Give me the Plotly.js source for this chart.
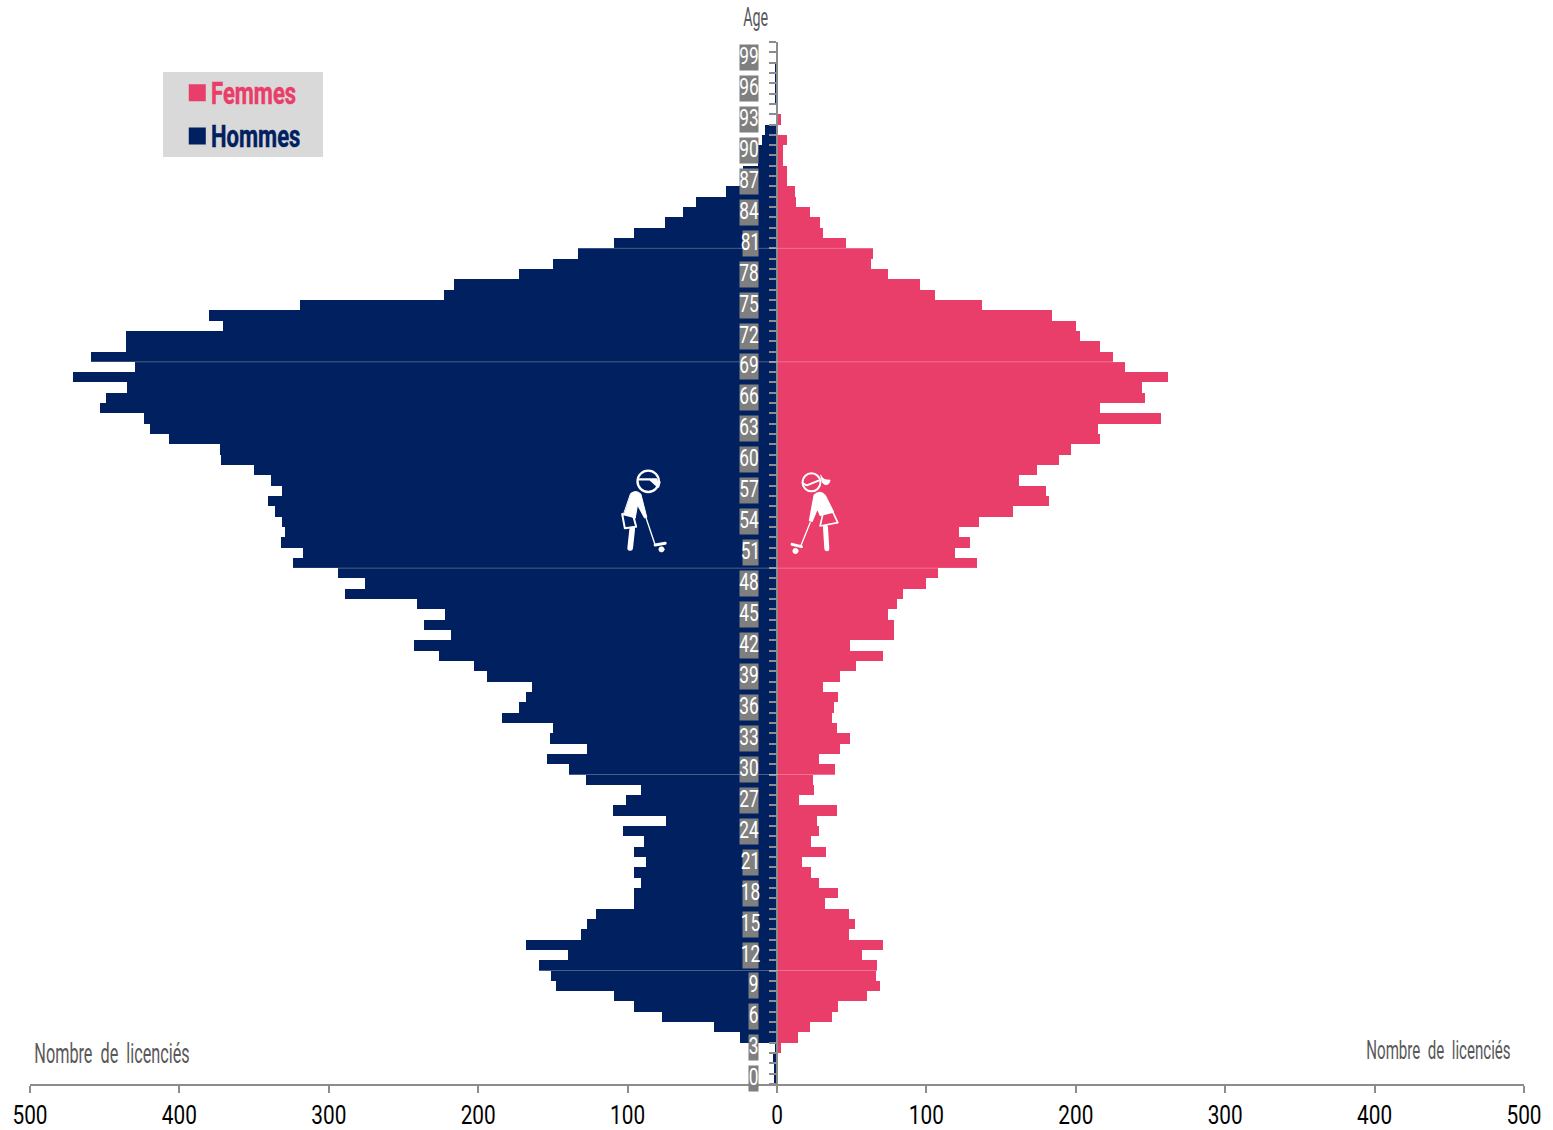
<!DOCTYPE html>
<html><head><meta charset="utf-8">
<script src="https://cdn.plot.ly/plotly-3.0.1.min.js"></script>
<style>html,body{margin:0;padding:0;background:#fff}#chart{width:1553px;height:1130px}</style>
</head><body><div id="chart"></div>
<script>
const ages = Array.from({length:101},(_,i)=>i);
const hommes = [
 2,2,3,1,25,42,77,96,109,148,
 151,159,140,168,131,127,121,96,96,91,
 96,88,96,89,103,74,110,101,91,128,
 139,154,127,152,150,184,173,168,164,194,
 203,226,243,218,236,222,241,289,276,294,
 324,317,332,329,331,336,341,331,339,350,
 372,373,407,420,424,453,449,435,471,430,
 459,436,436,371,380,319,223,216,173,150,
 133,109,96,75,63,54,34,24,23,13,
 13,10,8,0,0,1,1,1,1,0,0];
const femmes = [
 0,0,0,3,14,22,37,41,60,69,
 66,67,57,71,48,52,48,32,41,28,
 23,17,33,23,28,27,40,15,25,24,
 39,28,42,49,40,37,38,41,31,42,
 53,71,49,78,78,74,80,84,100,108,
 134,119,129,122,135,158,182,180,162,174,
 189,197,216,215,257,216,246,244,262,233,
 225,216,203,200,184,137,106,96,74,63,
 64,46,31,29,22,13,12,7,7,4,
 4,7,0,3,0,0,0,0,0,0,0];
const xTicks = [-500,-400,-300,-200,-100,0,100,200,300,400,500];
const xTickText = ['500','400','300','200','100','0','100','200','300','400','500'];
const ageLabels = ages.filter(a=>a%3===0 && a<100);
const seams = [10.5,29.5,49.5,69.5,80.5];
const femmesColor='#E93D6A', hommesColor='#00205F', greyText='#595959', narrow='"Liberation Sans Narrow","Roboto","Noto Sans",sans-serif';

const L=29.7,R=1524,T=42,B=1084;
const px=x=>(x-L)/(R-L), py=y=>(B-y)/(B-T);

const icon = `<svg xmlns="http://www.w3.org/2000/svg" viewBox="0 0 780 390" width="780" height="390" fill="none" stroke="white" stroke-linecap="round" stroke-linejoin="round">
<circle cx="144" cy="94" r="32" stroke-width="7"/>
<path d="M114 88 L168 88 M150 88 L178 96 L174 110 Z" stroke-width="7" fill="white"/>
<path d="M92 130 Q108 118 122 132 L140 202 L133 204 L112 165 L105 205 L72 190 Z" fill="white" stroke-width="3"/>
<path d="M66 192 L100 200 L108 230 L74 235 Z" stroke-width="6"/>
<path d="M96 238 L90 294" stroke-width="17"/>
<path d="M138 205 L165 285" stroke-width="4"/>
<path d="M165 285 L195 280" stroke-width="9"/>
<circle cx="184" cy="298" r="8" fill="white" stroke-width="2"/>
<circle cx="634" cy="97" r="27" stroke-width="6"/>
<path d="M608 100 L620 106 L655 92" stroke-width="6"/>
<path d="M662 76 Q668 92 690 90 Q688 106 675 104 Q662 100 662 76 Z" fill="white" stroke-width="2"/>
<path d="M642 136 Q660 118 676 138 L700 186 L660 196 L652 175 L636 214 L628 212 Z" fill="white" stroke-width="4"/>
<path d="M668 192 L696 182 L713 218 L660 228 Z" stroke-width="5"/>
<path d="M676 232 L680 296" stroke-width="15"/>
<path d="M630 218 L603 285" stroke-width="4"/>
<path d="M576 283 L604 290" stroke-width="9"/>
<circle cx="586" cy="303" r="8" fill="white" stroke-width="2"/>
</svg>`;

const bar=(name,x,color)=>({type:'bar',orientation:'h',name,x,y:ages,marker:{color,line:{width:0}},hoverinfo:'x+y'});
const traces=[
 bar(`<b><span style="color:${femmesColor}">Femmes</span></b>`,femmes,femmesColor),
 bar(`<b><span style="color:${hommesColor}">Hommes</span></b>`,hommes.map(v=>-v),hommesColor)
];
const digitW=s=>[...s].reduce((w,c)=>w+(c==='1'?6:9),0);
const annotations=ageLabels.map(a=>({
  xref:'x',yref:'y',x:-12,y:a,xanchor:'right',yanchor:'middle',showarrow:false,
  text:String(a),font:{family:narrow,size:24,color:'#fff'},
  bgcolor:'#7F7F7F',borderpad:0,width:digitW(String(a)),height:25,align:'center',valign:'middle'
})).concat([
 {xref:'paper',yref:'paper',x:px(755),y:py(17),showarrow:false,text:'Age',font:{family:narrow,size:26,color:greyText},xanchor:'center',yanchor:'middle'},
 {xref:'paper',yref:'paper',x:px(112),y:py(1053),showarrow:false,text:'Nombre  de  licenciés',font:{family:narrow,size:28,color:greyText},xanchor:'center',yanchor:'middle'},
 {xref:'paper',yref:'paper',x:px(1438),y:py(1050),showarrow:false,text:'Nombre  de  licenciés',font:{family:narrow,size:26,color:greyText},xanchor:'center',yanchor:'middle'}
]);
const shapes=seams.map(s=>({type:'line',xref:'x',yref:'y',x0:-500,x1:500,y0:s,y1:s,line:{color:'rgba(255,255,255,0.28)',width:1},layer:'above'}));
const layout={
 width:1553,height:1130,autosize:false,
 margin:{l:L,r:1553-R,t:T,b:1130-B,pad:0},
 paper_bgcolor:'#fff',plot_bgcolor:'#fff',
 barmode:'overlay',bargap:0,
 showlegend:true,
 legend:{x:px(163),y:py(72),xanchor:'left',yanchor:'top',bgcolor:'#D9D9D9',borderwidth:0,
   font:{family:narrow,size:31},entrywidth:110,entrywidthmode:'pixels',itemclick:false,itemdoubleclick:false},
 xaxis:{range:[-500,500],tickmode:'array',tickvals:xTicks,ticktext:xTickText,ticks:'outside',ticklen:7,tickwidth:1.5,tickcolor:'#8C8C8C',
   showline:true,linecolor:'#8C8C8C',linewidth:1.5,showgrid:false,zeroline:false,
   tickfont:{family:narrow,size:26,color:'#000'},fixedrange:true},
 yaxis:{range:[-0.5,100.5],anchor:'free',position:0.5,tickmode:'linear',tick0:-0.5,dtick:1,ticks:'outside',ticklen:7,tickwidth:1.5,tickcolor:'#8C8C8C',
   showline:true,linecolor:'#8C8C8C',linewidth:2,showgrid:false,zeroline:false,showticklabels:false,fixedrange:true},
 annotations,shapes,
 images:[{source:'data:image/svg+xml;charset=utf-8,'+encodeURIComponent(icon),xref:'paper',yref:'paper',
   x:px(600),y:py(450),sizex:260/(R-L),sizey:130/(B-T),xanchor:'left',yanchor:'top',sizing:'stretch',layer:'above'}]
};
function squeeze(el,f,anchor){
  const b=el.getBBox();
  const cx=anchor==='left'?b.x:b.x+b.width/2;
  el.setAttribute('transform',(el.getAttribute('transform')||'')+` translate(${cx},0) scale(${f},1) translate(${-cx},0)`);
}
Plotly.newPlot('chart',traces,layout,{displayModeBar:false}).then(gd=>{
  gd.querySelectorAll('.xtick text').forEach(e=>squeeze(e,0.8));
  gd.querySelectorAll('.annotation').forEach(g=>{
    const t=g.querySelector('.annotation-text'), r=g.querySelector('rect.bg');
    const s=t.textContent;
    t.removeAttribute('clip-path');
    t.style.clipPath='none';
    squeeze(t,s==='Age'?0.55:s.length>3?0.58:0.72);
    if(r && s.length<=2){
      const a=r.getBoundingClientRect(), b=t.getBoundingClientRect();
      const d=(a.left+a.right)/2-(b.left+b.right)/2;
      t.setAttribute('transform',`translate(${d},-2) `+(t.getAttribute('transform')||''));
    }
  });
  gd.querySelectorAll('.legendtext').forEach(e=>{
    squeeze(e,0.71,'left');
    e.querySelectorAll('tspan').forEach(t=>{ if(t.style.fill){t.style.stroke=t.style.fill;t.style.strokeWidth='0.5px';} });
    e.setAttribute('transform',(e.getAttribute('transform')||'')+' translate(11,-7)');
  });
  gd.querySelectorAll('.legendpoints path').forEach(p=>p.setAttribute('d','M8.5,8.5H-8.5V-8.5H8.5Z'));
  gd.querySelectorAll('.legendpoints').forEach(p=>p.setAttribute('transform','translate(14,-6)'));
  const lb=gd.querySelector('.legend rect.bg');
  if(lb){lb.setAttribute('width',160);lb.setAttribute('height',85);}
});
</script></body></html>
